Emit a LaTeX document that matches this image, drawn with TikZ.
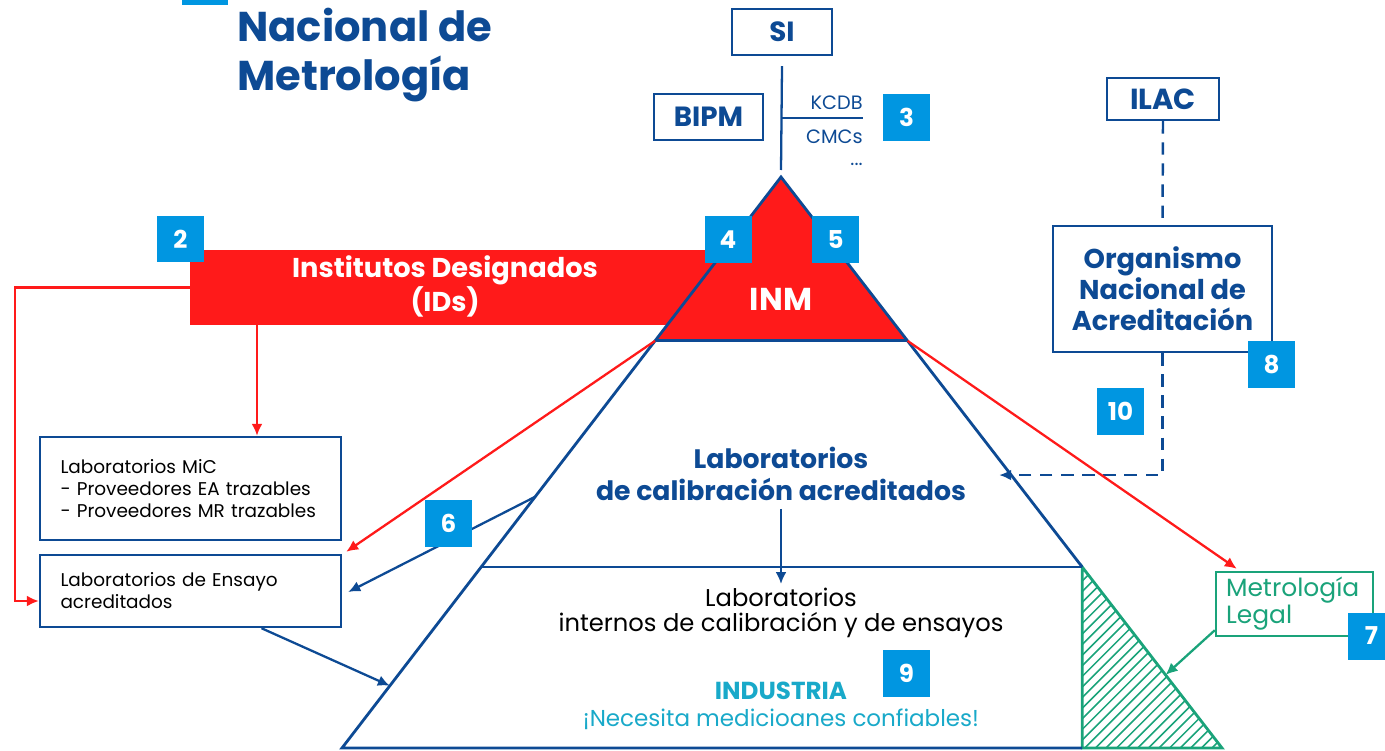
\documentclass[tikz,border=0pt]{standalone}
\usepackage{fontspec}
\setmainfont{Poppins}
\usetikzlibrary{arrows.meta,calc}
\definecolor{navy}{HTML}{0D4A94}
\definecolor{numblue}{HTML}{0096E1}
\definecolor{idred}{HTML}{FF1A1A}
\definecolor{legalgreen}{HTML}{1AA37A}
\definecolor{cyantext}{HTML}{19A9C9}
\tikzset{
  frame/.style={draw=navy,line width=1.4pt,fill=white,inner sep=0pt},
  numbox/.style={fill=numblue,text=white,minimum size=0.94cm,inner sep=0pt,font=\bfseries\fontsize{14}{14}\selectfont},
  redarrow/.style={draw=idred,line width=1.3pt,-{Latex[length=2.4mm,width=2.2mm]}},
  bluearrow/.style={draw=navy,line width=1.3pt,-{Latex[length=2.4mm,width=2.2mm]}},
  greenarrow/.style={draw=legalgreen,line width=1.3pt,-{Latex[length=2.4mm,width=2.2mm]}},
  dashline/.style={draw=navy,line width=1.4pt,dash pattern=on 7pt off 5pt}
}
\begin{document}
\begin{tikzpicture}[x=0.02cm,y=-0.02cm]
 \useasboundingbox (0,0) rectangle (1385,750);
 % title
 \fill[numblue] (182,-40) rectangle (228,5);
 \node[anchor=north west,inner sep=0pt,align=left,text=navy,font=\bfseries\fontsize{23.7}{27.5}\selectfont] (title) at (237,8) {Nacional de\\Metrología};
 % SI / BIPM
 \node[frame,minimum width=2cm,minimum height=0.92cm,text=navy,font=\bfseries\fontsize{15.8}{15.8}\selectfont] (si) at (782,32) {SI};
 \node[frame,minimum width=2.18cm,minimum height=0.92cm,text=navy,font=\bfseries\fontsize{15.8}{15.8}\selectfont] (bipm) at (708.5,117) {BIPM};
 \node[anchor=east,inner sep=0pt,text=navy,font=\fontsize{11}{11}\selectfont] (kcdb) at (863,103) {KCDB};
 \node[anchor=east,inner sep=0pt,text=navy,font=\fontsize{11}{11}\selectfont] (cmcs) at (863,137) {CMCs};
 \node[anchor=east,inner sep=0pt,text=navy,font=\fontsize{11}{11}\selectfont] (dots) at (863,164) {...};
 % pyramid points
 \coordinate (apex) at (781,177);
 \coordinate (bl) at (342,748);
 \coordinate (br) at (1222,748);
 \coordinate (inmL) at ($(apex)!0.287!(bl)$);
 \coordinate (inmR) at ($(apex)!0.287!(br)$);
 \coordinate (midL) at ($(apex)!0.683!(bl)$);
 \coordinate (midR) at ($(apex)!0.683!(br)$);
 \coordinate (hatchB) at (midR |- br);
 \draw[navy,line width=1.3pt] ($(si.south)+(0,10)$) -- ($(apex)+(0,-7)$);
 \coordinate (fork) at ($(si.south)+(0,62)$);
 \draw[navy,line width=1.3pt] (fork) -- (kcdb.east |- fork);
 % IDs
 \node[fill=idred,minimum width=11cm,minimum height=1.5cm,inner sep=0pt] (ids) at (465,287.5) {};
 \node[text=white,align=center,font=\bfseries\fontsize{15.5}{18}\selectfont] (idslabel) at (445,286) {Institutos Designados\\(IDs)};
 \fill[idred] (apex) -- (inmR) -- (inmL) -- cycle;
 % legal part
 \begin{scope}
  \clip (midR) -- (br) -- (hatchB) -- cycle;
  \foreach \k in {0,...,34}
    \draw[legalgreen,line width=0.9pt] (1082,{560+\k*10.6}) -- ++(200,-200);
 \end{scope}
 \draw[legalgreen,line width=1.6pt] (midR) -- (br) -- (hatchB) -- cycle;
 \draw[navy,line width=1.6pt] (midR) -- (apex) -- (bl) -- (hatchB);
 \draw[navy,line width=1.6pt] (inmL) -- (inmR) (midL) -- (midR);
 \node[text=white,font=\bfseries\fontsize{18}{18}\selectfont] (inm) at (781,299) {INM};
 % levels
 \node[text=navy,align=center,inner sep=0pt,font=\bfseries\fontsize{15.2}{18}\selectfont] (calib) at (781,474) {Laboratorios\\de calibración acreditados};
 \node[align=center,inner sep=0pt,font=\fontsize{13.8}{14.2}\selectfont] (internos) at (781,613) {Laboratorios\\internos de calibración y de ensayos};
 \node[text=cyantext,inner sep=0pt,font=\bfseries\fontsize{14}{14}\selectfont] (industria) at (781,691) {INDUSTRIA};
 \node[text=cyantext,inner sep=0pt,font=\fontsize{13.1}{13.1}\selectfont] (necesita) at (781,719) {¡Necesita medicioanes confiables!};
 \coordinate (lvl) at (0,584);
 \draw[bluearrow] ($(calib.south)+(0,8)$) -- (calib.south |- lvl);
 % left boxes
 \node[frame,minimum width=6.02cm,minimum height=2.06cm,text width=5.2cm,inner xsep=0.41cm,align=left,font=\fontsize{10.5}{12.5}\selectfont] (mic) at (190.5,488.5) {Laboratorios MiC\\- Proveedores EA trazables\\- Proveedores MR trazables};
 \node[frame,minimum width=6.02cm,minimum height=1.44cm,text width=5.2cm,inner xsep=0.41cm,align=left,font=\fontsize{10.5}{12.5}\selectfont] (ensayo) at (190.5,591) {Laboratorios de Ensayo\\acreditados};
 \coordinate (idsdrop) at (257,0);
 \draw[redarrow] (ids.south -| idsdrop) -- (mic.north -| idsdrop);
 \draw[redarrow] (ids.west) -- ++(-175,0) |- ($(ensayo.west)+(0,10)$);
 % right boxes
 \node[frame,minimum width=2.24cm,minimum height=0.84cm,text=navy,font=\bfseries\fontsize{16.5}{16.5}\selectfont] (ilac) at (1163,99) {ILAC};
 \node[frame,minimum width=4.38cm,minimum height=2.52cm,align=center,text=navy,font=\bfseries\fontsize{15.5}{17.6}\selectfont] (org) at (1162.5,289) {Organismo\\Nacional de\\Acreditación};
 \node[frame,draw=legalgreen,minimum width=3.14cm,minimum height=1.28cm,text width=2.74cm,inner xsep=0.2cm,align=left,text=legalgreen,font=\fontsize{14.2}{13.6}\selectfont] (legal) at (1294.5,604) {Metrología\\Legal};
 \draw[dashline] (ilac.south) -- (org.north);
 \coordinate (edgeR) at ($(apex)!0.522!(br)$);
 \draw[dashline,-{Latex[length=2.4mm,width=2.2mm]}] (org.south) |- ($(edgeR)+(-12,0)$);
 % connectors
 \draw[redarrow] (inmL) -- ($(ensayo.north east)+(4,-2)$);
 \draw[redarrow] (inmR) -- ($(legal.north west)+(22,-2)$);
 \coordinate (edge6) at ($(apex)!0.56!(bl)$);
 \draw[bluearrow] (edge6) -- ($(ensayo.east)+(6,1)$);
 \coordinate (edgeE) at ($(apex)!0.891!(bl)$);
 \draw[bluearrow] ($(ensayo.south)+(71,0)$) -- (edgeE);
 \coordinate (edgeG) at ($(apex)!0.872!(br)$);
 \draw[greenarrow] ($(legal.south west)+(0,-7)$) -- (edgeG);
 % numbers
 \foreach \n/\x/\y in {2/180.5/239,3/906.5/117.5,4/728/239.5,5/835.5/239.5,6/448.5/523.5,7/1371.5/636,8/1271.5/364.5,9/906.5/673.5,10/1120.5/411.5}
   \node[numbox] (n\n) at (\x,\y) {\n};
\end{tikzpicture}
\end{document}
